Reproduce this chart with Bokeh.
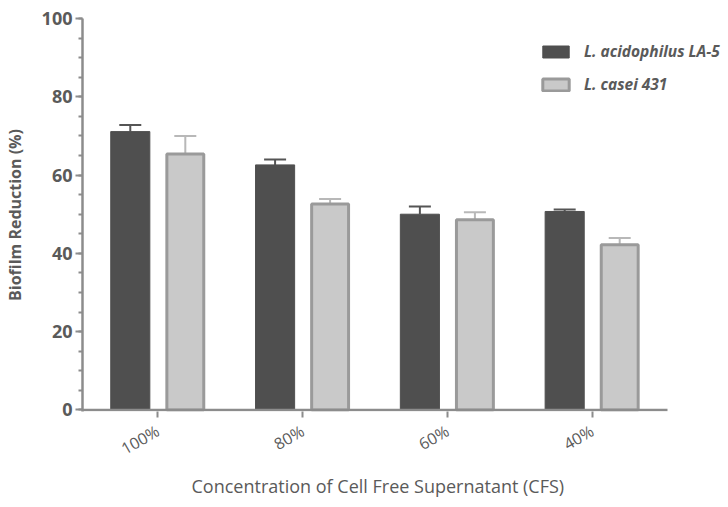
import math
from bokeh.plotting import figure
from bokeh.models import (ColumnDataSource, FixedTicker, SingleIntervalTicker, Whisker,
                          TeeHead, Legend, LegendItem, Title)
from bokeh.embed import file_html
from bokeh.resources import INLINE

categories = ["100%", "80%", "60%", "40%"]
acidophilus = [71.1, 62.6, 50.0, 50.7]
acidophilus_err = [1.7, 1.4, 2.0, 0.5]
casei = [65.4, 52.6, 48.6, 42.2]
casei_err = [4.6, 1.3, 1.9, 1.7]
series_names = ["L. acidophilus LA-5", "L. casei 431"]
x_title = "Concentration of Cell Free Supernatant (CFS)"
y_title = "Biofilm Reduction (%)"

TXT = "#5a5a5a"
FONT = "Open Sans"
AXC = "#8c8c8c"

W, H = 724, 499
BL, BR, BT, BB = 82, 0, 18, 88
x_start, px_per_unit = -0.52, 144.8
x_end = x_start + (W - BL - BR) / px_per_unit
axis_end = 3.52

x = list(range(len(categories)))
off = 0.19
src_a = ColumnDataSource(dict(x=[i - off for i in x], top=acidophilus,
                              upper=[v + e for v, e in zip(acidophilus, acidophilus_err)]))
src_c = ColumnDataSource(dict(x=[i + off for i in x], top=casei,
                              upper=[v + e for v, e in zip(casei, casei_err)]))

p = figure(width=W, height=H, x_range=(x_start, x_end), y_range=(-0.4, 100),
           output_backend="svg", toolbar_location=None,
           min_border_left=BL, min_border_right=BR, min_border_top=BT, min_border_bottom=BB)
p.outline_line_color = None
p.grid.visible = False
p.background_fill_color = "white"

wa = Whisker(source=src_a, base="x", upper="upper", lower="top",
             upper_head=TeeHead(size=22, line_color="#555555", line_width=2),
             lower_head=None, line_color="#555555", line_width=2)
wc = Whisker(source=src_c, base="x", upper="upper", lower="top",
             upper_head=TeeHead(size=22, line_color="#b8b8b8", line_width=2),
             lower_head=None, line_color="#b8b8b8", line_width=2)
p.add_layout(wa)
p.add_layout(wc)

ra = p.vbar(x="x", top="top", bottom=0, width=0.27, source=src_a,
            fill_color="#4f4f4f", line_color="#4f4f4f", line_width=1)
rc = p.vbar(x="x", top="top", bottom=0, width=0.255, source=src_c,
            fill_color="#c9c9c9", line_color="#9a9a9a", line_width=3)

# x axis baseline drawn as a segment so that the frame can extend for the legend
p.segment(x0=[x_start], y0=[0], x1=[axis_end], y1=[0], line_color=AXC, line_width=2.5)

for ax in (p.xaxis[0], p.yaxis[0]):
    ax.axis_line_color = AXC
    ax.axis_line_width = 2.5
    ax.major_tick_line_color = AXC
    ax.major_tick_line_width = 2
    ax.minor_tick_line_color = AXC
    ax.minor_tick_line_width = 2
    ax.major_tick_in = 0
    ax.minor_tick_in = 0
    ax.major_label_text_color = TXT
    ax.major_label_text_font = FONT
    ax.axis_label_text_color = TXT
    ax.axis_label_text_font = FONT
p.xaxis.axis_line_color = None

p.yaxis.ticker = SingleIntervalTicker(interval=20, num_minor_ticks=4)
p.yaxis.major_tick_out = 7
p.yaxis.minor_tick_out = 4
p.yaxis.major_label_text_font_size = "18px"
p.yaxis.major_label_text_font_style = "bold"
p.yaxis.major_label_standoff = 3
p.yaxis.axis_label = y_title
p.yaxis.axis_label_text_font_size = "16px"
p.yaxis.axis_label_text_font_style = "bold"
p.yaxis.axis_label_standoff = 13

p.xaxis.ticker = FixedTicker(ticks=x)
p.xaxis.major_label_overrides = {i: c for i, c in zip(x, categories)}
p.xaxis.major_tick_out = 6
p.xaxis.minor_tick_out = 0
p.xaxis.major_label_orientation = math.pi / 6
p.xaxis.major_label_text_font_size = "16px"
p.xaxis.major_label_standoff = 12

xt = Title(text=x_title, align="left", offset=109, text_font=FONT,
           text_font_size="18px", text_font_style="normal", text_color=TXT,
           standoff=0)
p.add_layout(xt, "below")

legend = Legend(items=[LegendItem(label=series_names[0], renderers=[ra]),
                       LegendItem(label=series_names[1], renderers=[rc])],
                location=(457, 316), orientation="vertical",
                border_line_color=None, background_fill_alpha=0,
                padding=0, margin=0, spacing=11,
                glyph_width=33, glyph_height=15, label_height=15,
                label_standoff=12,
                label_text_font=FONT, label_text_font_size="15.5px",
                label_text_font_style="bold italic", label_text_color=TXT)
p.add_layout(legend)

open("out.html", "w").write(file_html(p, INLINE))
